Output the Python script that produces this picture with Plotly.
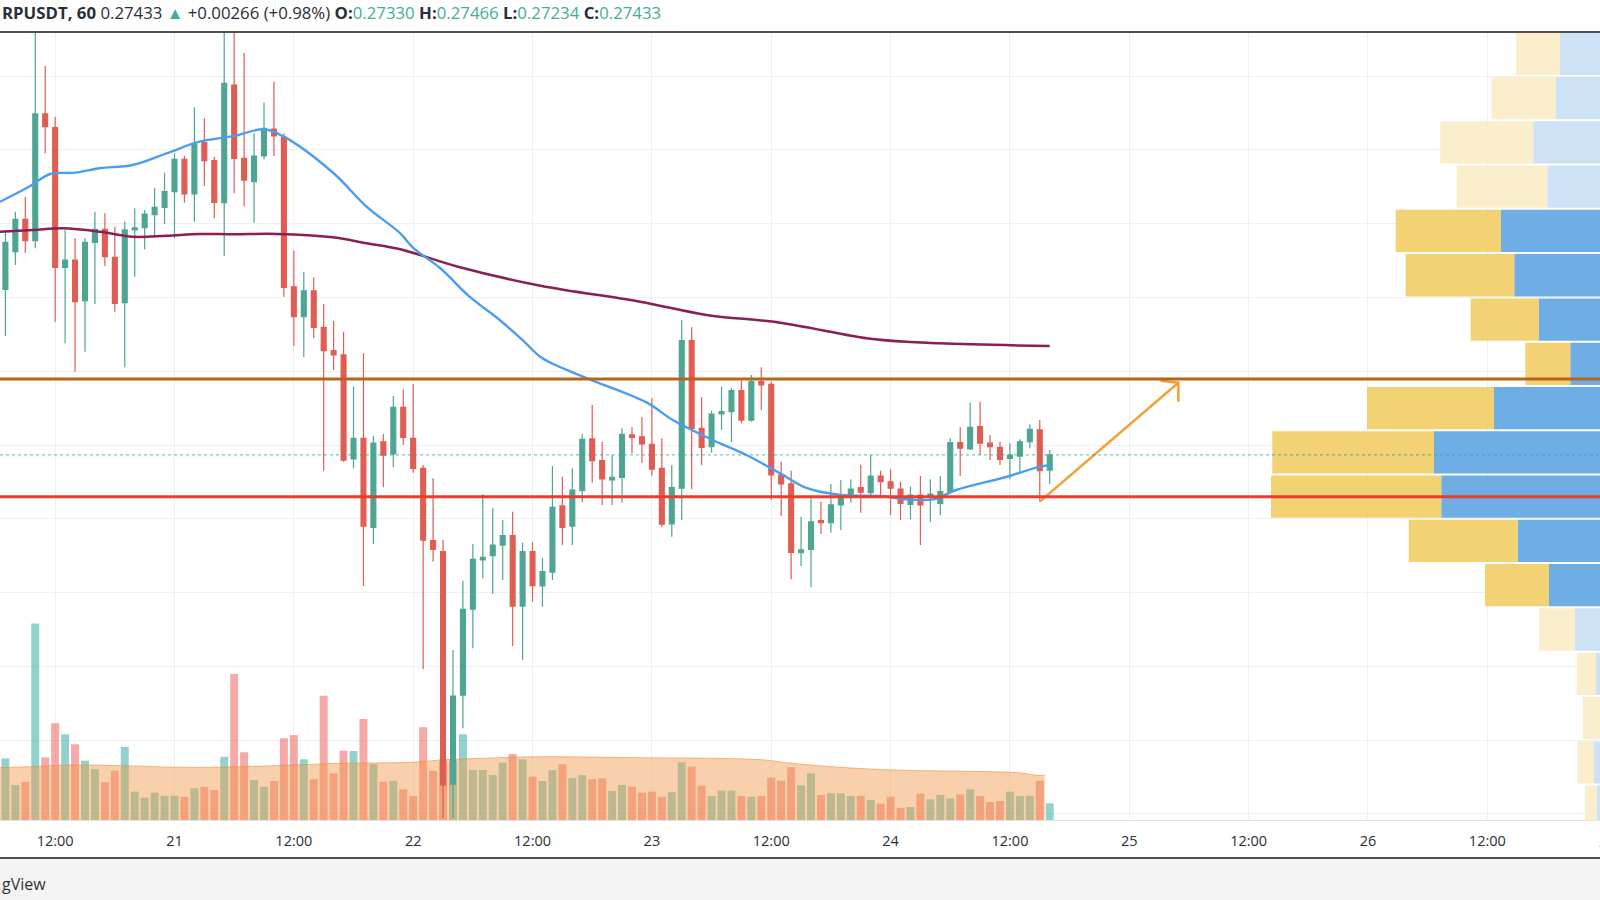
import plotly.graph_objects as go

# ---------------- data ----------------
# x: hours since 2019-09-20 00:00 (hourly candles of a 60-minute chart)
hours = list(range(7, 113))

opens = [
    0.28555, 0.28810, 0.29029, 0.28884, 0.29743, 0.29650, 0.28704, 0.28753, 0.28478, 0.28873,
    0.28961, 0.28772, 0.28464, 0.28957, 0.28972, 0.29060, 0.29110, 0.29216, 0.29436, 0.29201,
    0.29548, 0.29426, 0.29142, 0.29939, 0.29442, 0.29284, 0.29458, 0.29641, 0.29585, 0.28572,
    0.28369, 0.28545, 0.28297, 0.28139, 0.28110, 0.27405, 0.27545, 0.26942, 0.27522, 0.27439,
    0.27755, 0.27545, 0.27342, 0.26852, 0.26777, 0.25203, 0.25806, 0.26387, 0.26721, 0.26750,
    0.26822, 0.26886, 0.26409, 0.26777, 0.26545, 0.26638, 0.27087, 0.26951, 0.27190, 0.27541,
    0.27394, 0.27263, 0.27281, 0.27568, 0.27556, 0.27505, 0.27342, 0.26965, 0.27207, 0.28207,
    0.27613, 0.27488, 0.27710, 0.27726, 0.27868, 0.27669, 0.27929, 0.27911, 0.27297, 0.27236,
    0.26770, 0.26793, 0.26987, 0.26974, 0.27094, 0.27150, 0.27211, 0.27177, 0.27290, 0.27251,
    0.27202, 0.27098, 0.27161, 0.27154, 0.27105, 0.27184, 0.27516, 0.27473, 0.27624, 0.27512,
    0.27484, 0.27410, 0.27425, 0.27522, 0.27602, 0.27330,
]
highs = [
    0.28957, 0.29081, 0.29182, 0.30305, 0.30068, 0.29724, 0.28957, 0.28900, 0.28900, 0.29081,
    0.29070, 0.28979, 0.29013, 0.29104, 0.29092, 0.29239, 0.29345, 0.29476, 0.29458, 0.29788,
    0.29713, 0.29453, 0.30305, 0.30305, 0.30158, 0.29612, 0.29819, 0.29961, 0.29612, 0.28816,
    0.28674, 0.28636, 0.28455, 0.28342, 0.28268, 0.27895, 0.28121, 0.27561, 0.27575, 0.27832,
    0.27877, 0.27913, 0.27364, 0.27274, 0.26856, 0.26111, 0.26581, 0.26829, 0.27168, 0.27071,
    0.26992, 0.27048, 0.26838, 0.26845, 0.26732, 0.27358, 0.27285, 0.27342, 0.27575, 0.27771,
    0.27522, 0.27432, 0.27613, 0.27620, 0.27688, 0.27816, 0.27545, 0.27364, 0.28347, 0.28297,
    0.27823, 0.27732, 0.27895, 0.27886, 0.27936, 0.27974, 0.28026, 0.27929, 0.27387, 0.27326,
    0.27014, 0.27139, 0.27116, 0.27236, 0.27263, 0.27268, 0.27364, 0.27432, 0.27326, 0.27335,
    0.27251, 0.27217, 0.27290, 0.27268, 0.27290, 0.27545, 0.27620, 0.27787, 0.27793, 0.27568,
    0.27522, 0.27512, 0.27539, 0.27640, 0.27669, 0.27466,
]
lows = [
    0.28238, 0.28720, 0.28803, 0.28833, 0.29476, 0.28335, 0.28189, 0.27997, 0.28132, 0.28455,
    0.28713, 0.28403, 0.28026, 0.28640, 0.28826, 0.28923, 0.28997, 0.28900, 0.29142, 0.29013,
    0.29255, 0.29036, 0.28780, 0.29205, 0.29115, 0.29006, 0.29436, 0.29458, 0.28505, 0.28171,
    0.28094, 0.28223, 0.27326, 0.28008, 0.27387, 0.27342, 0.26545, 0.26829, 0.27213, 0.27349,
    0.27500, 0.27312, 0.25980, 0.26709, 0.24973, 0.24973, 0.25581, 0.26123, 0.26597, 0.26490,
    0.26585, 0.26138, 0.26043, 0.26438, 0.26404, 0.26585, 0.26822, 0.26822, 0.27112, 0.27245,
    0.27094, 0.27094, 0.27109, 0.27444, 0.27380, 0.27292, 0.26942, 0.26879, 0.26992, 0.27200,
    0.27364, 0.27448, 0.27602, 0.27522, 0.27647, 0.27658, 0.27737, 0.27127, 0.27019, 0.26590,
    0.26680, 0.26536, 0.26897, 0.26906, 0.26924, 0.27109, 0.27041, 0.27150, 0.27150, 0.27026,
    0.26992, 0.26997, 0.26822, 0.26980, 0.27026, 0.27177, 0.27290, 0.27466, 0.27432, 0.27398,
    0.27364, 0.27268, 0.27308, 0.27478, 0.27116, 0.27234,
]
closes = [
    0.28873, 0.29029, 0.28884, 0.29743, 0.29656, 0.28704, 0.28753, 0.28471, 0.28873, 0.28961,
    0.28776, 0.28460, 0.28957, 0.28972, 0.29065, 0.29110, 0.29216, 0.29436, 0.29201, 0.29539,
    0.29426, 0.29144, 0.29951, 0.29442, 0.29295, 0.29458, 0.29646, 0.29594, 0.28568, 0.28369,
    0.28545, 0.28297, 0.28139, 0.28110, 0.27398, 0.27545, 0.26951, 0.27512, 0.27432, 0.27755,
    0.27552, 0.27342, 0.26856, 0.26793, 0.25196, 0.25799, 0.26387, 0.26726, 0.26739, 0.26822,
    0.26886, 0.26409, 0.26777, 0.26547, 0.26642, 0.27078, 0.26942, 0.27195, 0.27539, 0.27394,
    0.27270, 0.27281, 0.27572, 0.27552, 0.27507, 0.27337, 0.26963, 0.27211, 0.28207, 0.27613,
    0.27484, 0.27710, 0.27726, 0.27868, 0.27669, 0.27929, 0.27907, 0.27297, 0.27236, 0.26773,
    0.26789, 0.26980, 0.26974, 0.27094, 0.27150, 0.27202, 0.27180, 0.27290, 0.27251, 0.27207,
    0.27105, 0.27161, 0.27094, 0.27168, 0.27184, 0.27516, 0.27478, 0.27620, 0.27512, 0.27488,
    0.27403, 0.27432, 0.27522, 0.27606, 0.27326, 0.27433,
]
# hourly volume (millions)
volumes = [
    3.13, 1.78, 1.94, 9.98, 3.18, 4.91, 4.35, 3.84, 3.01, 2.59,
    1.91, 2.50, 3.71, 1.44, 1.13, 1.39, 1.23, 1.23, 1.18, 1.61,
    1.68, 1.52, 3.21, 7.41, 3.44, 2.03, 1.69, 1.98, 4.15, 4.31,
    3.08, 2.07, 6.31, 2.37, 3.52, 3.50, 5.13, 2.84, 1.94, 1.99,
    1.56, 1.22, 4.71, 2.49, 3.00, 3.00, 4.35, 2.54, 2.54, 2.28,
    2.91, 3.35, 3.08, 2.20, 1.98, 2.54, 2.83, 2.12, 2.28, 2.07,
    2.12, 1.47, 1.78, 1.69, 1.39, 1.44, 1.18, 1.41, 2.93, 2.71,
    1.74, 1.22, 1.49, 1.49, 1.22, 1.18, 1.22, 2.15, 1.99, 2.68,
    1.76, 2.37, 1.27, 1.36, 1.36, 1.22, 1.23, 1.02, 0.83, 1.18,
    0.62, 0.66, 1.34, 1.05, 1.27, 1.10, 1.30, 1.56, 1.22, 0.91,
    0.96, 1.44, 1.22, 1.23, 1.99, 0.85,
]

# fast moving average (blue), read at these hours
ma_fast_hours = [6.45, 9.5, 11.5, 14.0, 16.5, 19.8, 23.2, 26.5, 30.0, 33.0, 35.0, 40.0,
                 43.3, 46.7, 48.0, 50.7, 53.7, 56.7, 59.0, 61.0, 65.5, 71.5, 74.1, 78.1,
                 81.5, 84.9, 87.6, 91.0, 95.0, 97.6, 100.3, 102.6, 107.7, 111.0, 112.0]
ma_fast = [0.29148, 0.29255, 0.29336, 0.29345, 0.29375, 0.29397, 0.29476, 0.29555, 0.29594,
           0.29639, 0.29589, 0.29341, 0.29115, 0.28934, 0.28835, 0.28699, 0.28503, 0.28347,
           0.28211, 0.28087, 0.27952, 0.27787, 0.27669, 0.27534, 0.27432, 0.27308, 0.27207,
           0.27161, 0.27154, 0.27132, 0.27132, 0.27195, 0.27285, 0.27353, 0.27364]
# slow moving average (maroon)
ma_slow_hours = [6.45, 9.8, 12.8, 16.5, 19.8, 23.2, 26.6, 29.9, 34.3, 39.9, 43.3, 46.7,
                 52.6, 60.8, 70.8, 77.5, 84.9, 94.2, 100.9, 112.0]
ma_slow = [0.28945, 0.28957, 0.28968, 0.28945, 0.28911, 0.28918, 0.28930, 0.28928, 0.28930,
           0.28907, 0.28867, 0.28826, 0.28706, 0.28579, 0.28471, 0.28381, 0.28329, 0.28218,
           0.28189, 0.28171]
# volume moving average (orange area)
vol_ma_hours = [6.0, 9.9, 13.4, 20.3, 23.7, 28.6, 34.2, 41.0, 48.0, 50.8, 54.9, 60.7,
                71.1, 78.3, 83.3, 85.5, 90.8, 96.2, 103.4, 108.8, 110.6, 111.5]
vol_ma = [2.65, 2.71, 2.79, 2.74, 2.68, 2.68, 2.76, 2.88, 2.93, 3.05, 3.13, 3.21,
          3.16, 3.13, 3.05, 2.91, 2.68, 2.54, 2.47, 2.40, 2.28, 2.26]

# volume profile (visible range), rows from bottom to top
profile_price = [0.2505, 0.2535, 0.2565, 0.2595, 0.2625, 0.2655, 0.2685, 0.2715, 0.2745,
                 0.2775, 0.2805, 0.2835, 0.2865, 0.2895, 0.2925, 0.2955, 0.2985, 0.3015]
profile_up = [6.33, 6.60, 5.90, 6.40, 8.50, 11.10, 14.23, 21.87, 22.60,
              16.60, 8.97, 12.10, 14.57, 15.90, 11.27, 12.67, 10.43, 10.00]
profile_down = [1.17, 1.67, 1.83, 1.93, 3.57, 6.40, 10.90, 17.03, 16.17,
                12.70, 4.50, 6.83, 10.86, 10.53, 9.06, 9.30, 6.40, 4.40]
value_area = [False, False, False, False, False, True, True, True, True,
              True, True, True, True, True, False, False, False, False]
profile_row = 0.003

# drawn levels
resistance = 0.27947
support = 0.27150
last_close = 0.27433
arrow_start = (111.0, 0.27116)
arrow_end = (124.93, 0.27922)

tick_hours = [12, 24, 36, 48, 60, 72, 84, 96, 108, 120, 132, 144, 156]
tick_text = ["12:00", "21", "12:00", "22", "12:00", "23", "12:00", "24",
             "12:00", "25", "12:00", "26", "12:00"]

# ---------------- styling ----------------
GREEN = "#4fa594"
RED = "#e05d53"
FONT = "Open Sans"

fig = go.Figure()

# volume bars (base axis)
bar_colors = ["rgba(38,166,154,0.5)" if c >= o else "rgba(239,83,80,0.5)"
              for o, c in zip(opens, closes)]
fig.add_trace(go.Bar(x=hours, y=volumes, width=0.8,
                     marker=dict(color=bar_colors, line=dict(width=0)),
                     xaxis="x", yaxis="y", hoverinfo="skip"))
fig.add_trace(go.Scatter(x=vol_ma_hours, y=vol_ma, mode="lines",
                         line=dict(color="rgba(240,140,60,0.6)", width=1, shape="spline"),
                         fill="tozeroy", fillcolor="rgba(240,152,72,0.45)",
                         xaxis="x", yaxis="y", hoverinfo="skip"))

# volume profile
up_colors = ["rgba(86,160,223,0.85)" if v else "rgba(196,221,243,0.85)" for v in value_area]
dn_colors = ["rgba(240,202,90,0.85)" if v else "rgba(250,235,195,0.85)" for v in value_area]
fig.add_trace(go.Bar(y=profile_price, x=profile_up, orientation="h", width=profile_row * 0.955,
                     marker=dict(color=up_colors, line=dict(width=0)),
                     xaxis="x2", yaxis="y2", hoverinfo="skip"))
fig.add_trace(go.Bar(y=profile_price, x=profile_down, base=profile_up, orientation="h",
                     width=profile_row * 0.955,
                     marker=dict(color=dn_colors, line=dict(width=0)),
                     xaxis="x2", yaxis="y2", hoverinfo="skip"))

# candles
fig.add_trace(go.Candlestick(
    x=hours, open=opens, high=highs, low=lows, close=closes,
    increasing=dict(line=dict(color=GREEN, width=1.2), fillcolor=GREEN),
    decreasing=dict(line=dict(color=RED, width=1.2), fillcolor=RED),
    whiskerwidth=0, xaxis="x", yaxis="y2", hoverinfo="skip"))

# moving averages
fig.add_trace(go.Scatter(x=ma_slow_hours, y=ma_slow, mode="lines",
                         line=dict(color="#8a1f55", width=2.5, shape="spline"),
                         xaxis="x", yaxis="y2", hoverinfo="skip"))
fig.add_trace(go.Scatter(x=ma_fast_hours, y=ma_fast, mode="lines",
                         line=dict(color="#4a9ef0", width=2.4, shape="spline"),
                         xaxis="x", yaxis="y2", hoverinfo="skip"))

# arrow (open V head)
head_dt, head_up, head_dn = 1.78, 0.00014, 0.00129
ax = [arrow_start[0], arrow_end[0], None, arrow_end[0] - head_dt, arrow_end[0], arrow_end[0]]
ay = [arrow_start[1], arrow_end[1], None, arrow_end[1] + head_up, arrow_end[1], arrow_end[1] - head_dn]
fig.add_trace(go.Scatter(x=ax, y=ay, mode="lines",
                         line=dict(color="#f5a033", width=2.5),
                         xaxis="x", yaxis="y2", hoverinfo="skip"))

shapes = [
    dict(type="line", xref="paper", x0=0, x1=1, yref="y2", y0=last_close, y1=last_close,
         line=dict(color="rgba(38,166,154,0.8)", width=1, dash="dot"), layer="above"),
    dict(type="line", xref="paper", x0=0, x1=1, yref="y2", y0=resistance, y1=resistance,
         line=dict(color="#b5651d", width=3), layer="above"),
    dict(type="line", xref="paper", x0=0, x1=1, yref="y2", y0=support, y1=support,
         line=dict(color="#ee3b2e", width=3), layer="above"),
    # frame lines
    dict(type="line", xref="paper", x0=0, x1=1, yref="paper", y0=1.0, y1=1.0,
         line=dict(color="#505050", width=2), layer="above"),
    dict(type="rect", xref="paper", x0=0, x1=1, yref="paper", y0=-0.1016, y1=-0.0495,
         fillcolor="#f4f4f4", line=dict(width=0), layer="below"),
    dict(type="line", xref="paper", x0=0, x1=1, yref="paper", y0=-0.0482, y1=-0.0482,
         line=dict(color="#505050", width=2), layer="above"),
]

header = ("<b>RPUSDT, 60</b> 0.27433 <span style='color:#3fae9c'>▲</span> +0.00266 (+0.98%) "
          "<b>O:</b><span style='color:#3fae9c'>0.27330</span> "
          "<b>H:</b><span style='color:#3fae9c'>0.27466</span> "
          "<b>L:</b><span style='color:#3fae9c'>0.27234</span> "
          "<b>C:</b><span style='color:#3fae9c'>0.27433</span>")

annotations = [
    dict(text=header, xref="paper", yref="paper", x=0, y=1.0247, xanchor="left",
         yanchor="middle", showarrow=False, font=dict(family=FONT, size=16.8, color="#2a2e39")),
    dict(text="gView", xref="paper", yref="paper", x=0, y=-0.0812, xanchor="left",
         yanchor="middle", showarrow=False, font=dict(family=FONT, size=16, color="#333333")),
    dict(text="27", xref="paper", yref="paper", x=1.0044, y=-0.0267, xanchor="center",
         yanchor="middle", showarrow=False, font=dict(family=FONT, size=14.5, color="#2a2e39")),
]

fig.update_layout(
    width=1600, height=900,
    margin=dict(l=0, r=0, t=32, b=80),
    paper_bgcolor="white", plot_bgcolor="white",
    showlegend=False, barmode="overlay",
    shapes=shapes, annotations=annotations,
    xaxis=dict(range=[6.455, 167.33], tickvals=tick_hours, ticktext=tick_text,
               showgrid=True, gridcolor="#eff0f3", gridwidth=1, zeroline=False,
               showline=True, linecolor="#e4e4e4", linewidth=1, ticks="",
               ticklabelstandoff=8,
               tickfont=dict(family=FONT, size=14.5, color="#2a2e39"),
               rangeslider=dict(visible=False), fixedrange=True),
    yaxis=dict(range=[0, 40], showgrid=False, zeroline=False, showticklabels=False,
               ticks="", fixedrange=True),
    yaxis2=dict(range=[0.249593, 0.302981], overlaying="y", anchor="x", side="right",
                showgrid=True, gridcolor="#eff0f3", gridwidth=1, dtick=0.005, tick0=0.25,
                showticklabels=False, zeroline=False, ticks="", fixedrange=True),
    xaxis2=dict(range=[166, 6], overlaying="x", anchor="y", visible=False, fixedrange=True),
)

fig.write_html("out.html", config={"displayModeBar": False},
               post_script="document.body.style.margin='0';document.body.style.overflow='hidden';")
